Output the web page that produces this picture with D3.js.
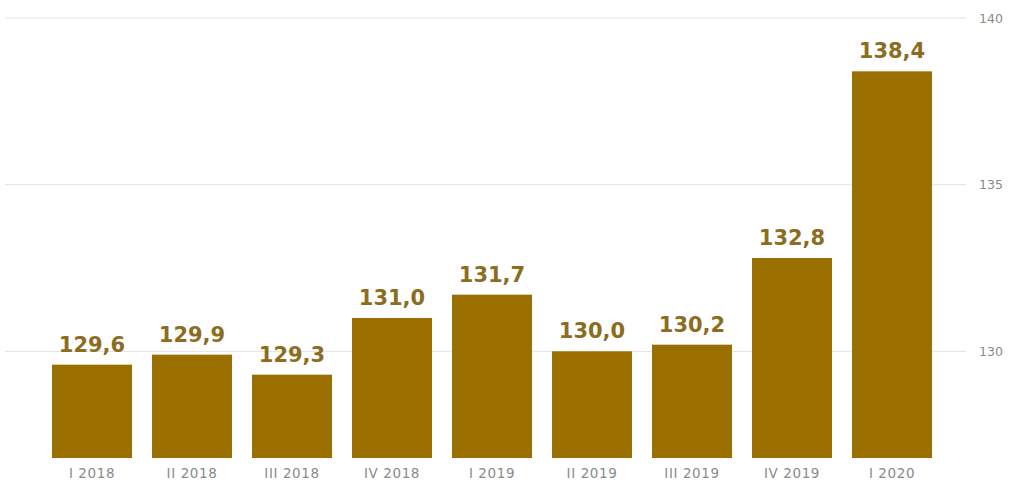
<!DOCTYPE html>
<html><head><meta charset="utf-8">
<script src="https://cdn.jsdelivr.net/npm/d3@7"></script>
<style>body{margin:0;background:#fff}svg{display:block}</style>
</head><body>
<svg id="c" width="1013" height="485"></svg>
<script>
const categories = ["I 2018","II 2018","III 2018","IV 2018","I 2019","II 2019","III 2019","IV 2019","I 2020"];
const values = [129.6,129.9,129.3,131.0,131.7,130.0,130.2,132.8,138.4];
const labels = ["129,6","129,9","129,3","131,0","131,7","130,0","130,2","132,8","138,4"];
const yTicks = [130,135,140];

const svg = d3.select("#c");
const x = d3.scaleBand().domain(categories).range([42,942]).paddingInner(0.2).paddingOuter(0.1);
const y = d3.scaleLinear().domain([126.8,140]).range([458,18]);

// gridlines
svg.append("g").selectAll("line").data(yTicks).join("line")
  .attr("x1",5).attr("x2",966)
  .attr("y1",d=>y(d)).attr("y2",d=>y(d))
  .attr("stroke","#e3e3e3").attr("stroke-width",1);

// right axis
const ay = svg.append("g").attr("transform","translate(966,0)")
  .call(d3.axisRight(y).tickValues(yTicks).tickSize(0).tickPadding(13).tickFormat(d3.format("d")));
ay.select(".domain").remove();
ay.selectAll("text").attr("font-family","DejaVu Sans, sans-serif").attr("font-size",12.5).attr("fill","#8a8a8a");

// bars
svg.append("g").selectAll("rect").data(values).join("rect")
  .attr("x",(d,i)=>x(categories[i])).attr("width",x.bandwidth())
  .attr("y",d=>y(d)).attr("height",d=>y(126.8)-y(d))
  .attr("fill","#9a6f00");

// value labels
svg.append("g").selectAll("text").data(values).join("text")
  .attr("x",(d,i)=>x(categories[i])+x.bandwidth()/2)
  .attr("y",d=>y(d)-13)
  .attr("text-anchor","middle")
  .attr("font-family","DejaVu Sans, sans-serif").attr("font-weight","bold").attr("font-size",21)
  .attr("fill","#8c6d1f")
  .text((d,i)=>labels[i]);

// bottom axis
const ax = svg.append("g").attr("transform","translate(0,458)")
  .call(d3.axisBottom(x).tickSize(0).tickPadding(10));
ax.select(".domain").remove();
ax.selectAll("text").attr("font-family","DejaVu Sans, sans-serif").attr("font-size",13.5).attr("letter-spacing","0.6px").attr("fill","#8a8a8a");
</script>
</body></html>
